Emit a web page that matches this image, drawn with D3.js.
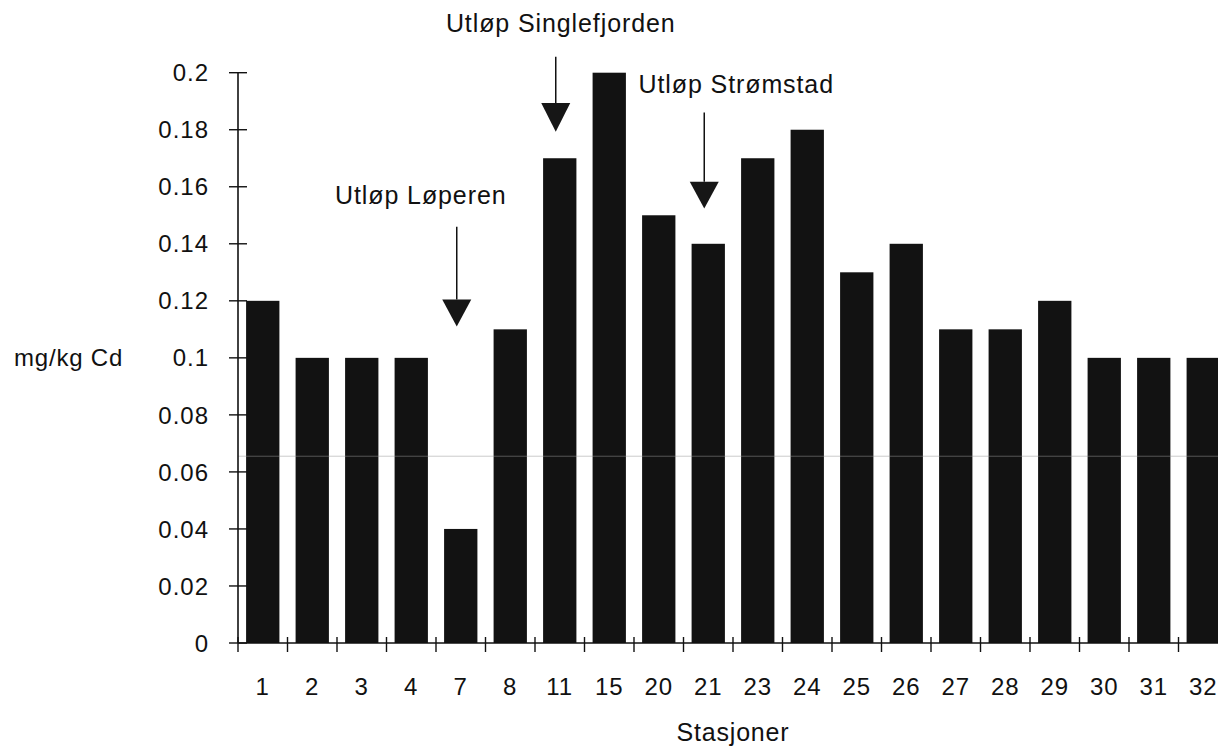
<!DOCTYPE html>
<html>
<head>
<meta charset="utf-8">
<script src="https://cdn.jsdelivr.net/npm/d3@7"></script>
<style>
  html, body { margin: 0; padding: 0; background: #fff; }
  svg { display: block; }
  text { font-family: "Liberation Sans", Arial, Helvetica, sans-serif; fill: #111; }
</style>
</head>
<body>
<svg id="chart" width="1218" height="749"></svg>
<script>
// ---- data ----
const stations = ["1","2","3","4","7","8","11","15","20","21","23","24","25","26","27","28","29","30","31","32"];
const cdValues = [0.12,0.10,0.10,0.10,0.04,0.11,0.17,0.20,0.15,0.14,0.17,0.18,0.13,0.14,0.11,0.11,0.12,0.10,0.10,0.10];
const yTicks = [0,0.02,0.04,0.06,0.08,0.1,0.12,0.14,0.16,0.18,0.2];
const yTickLabels = ["0","0.02","0.04","0.06","0.08","0.1","0.12","0.14","0.16","0.18","0.2"];
const annotationLabels = ["Utløp Løperen","Utløp Singlefjorden","Utløp Strømstad"];
const annotationTargets = ["7","11","21"];
// arrow geometry in data units: [text baseline, shaft top, head top, tip]
const annotationLevels = [
  [0.154, 0.146, 0.1205, 0.111],
  [0.2144, 0.2056, 0.1894, 0.1793],
  [0.1929, 0.186, 0.1618, 0.1524]
];
const yTitle = "mg/kg Cd";
const xTitle = "Stasjoner";

// ---- layout ----
const svg = d3.select("#chart");
const x0 = 238, x1 = 1228, yTop = 72.7, yBottom = 643;
const textOffsets = [-36, 5, 32];

const x = d3.scaleBand().domain(stations).range([x0, x1]).paddingInner(0.327).paddingOuter(0.1635);
const y = d3.scaleLinear().domain([0, 0.2]).range([yBottom, yTop]);
const step = x.step();

// bars
svg.append("g").selectAll("rect").data(stations).join("rect")
  .attr("x", d => x(d))
  .attr("width", x.bandwidth())
  .attr("y", (d, i) => y(cdValues[i]))
  .attr("height", (d, i) => y(0) - y(cdValues[i]))
  .attr("fill", "#121212");

// faint scan line
svg.append("line")
  .attr("x1", x0).attr("x2", 1218)
  .attr("y1", y(0.0655)).attr("y2", y(0.0655))
  .attr("stroke", "#9a9a9a").attr("stroke-opacity", 0.5).attr("stroke-width", 1);

// y axis
const yAxis = svg.append("g");
yAxis.append("line").attr("x1", x0).attr("x2", x0).attr("y1", y(0.2)).attr("y2", y(0))
  .attr("stroke", "#111").attr("stroke-width", 1.6);
yAxis.selectAll("line.tick").data(yTicks).join("line").attr("class", "tick")
  .attr("x1", x0 - 9).attr("x2", x0 + 9)
  .attr("y1", d => y(d)).attr("y2", d => y(d))
  .attr("stroke", "#111").attr("stroke-width", 1.4);
yAxis.selectAll("text").data(yTicks).join("text")
  .attr("x", 209).attr("y", d => y(d)).attr("dy", "0.36em")
  .attr("text-anchor", "end")
  .style("font-size", "24px").style("letter-spacing", "1px")
  .text((d, i) => yTickLabels[i]);

// x axis
const xAxis = svg.append("g");
xAxis.append("line").attr("x1", x0).attr("x2", 1218).attr("y1", y(0)).attr("y2", y(0))
  .attr("stroke", "#111").attr("stroke-width", 1.6);
const boundaries = d3.range(stations.length + 1).map(i => x0 + i * step);
xAxis.selectAll("line.tick").data(boundaries).join("line").attr("class", "tick")
  .attr("x1", d => d).attr("x2", d => d)
  .attr("y1", y(0) - 6).attr("y2", y(0) + 9)
  .attr("stroke", "#111").attr("stroke-width", 1.4);
xAxis.selectAll("text").data(stations).join("text")
  .attr("x", d => x(d) + x.bandwidth() / 2).attr("y", 695)
  .attr("text-anchor", "middle")
  .style("font-size", "24px").style("letter-spacing", "1px")
  .text(d => d);

// axis titles
svg.append("text").attr("x", 14).attr("y", y(0.1)).attr("dy", "0.36em")
  .style("font-size", "24px").style("letter-spacing", "0.8px").text(yTitle);
svg.append("text").attr("x", (x0 + x1) / 2).attr("y", 741).attr("text-anchor", "middle")
  .style("font-size", "25px").style("letter-spacing", "0.8px").text(xTitle);

// annotations
const ann = svg.append("g");
annotationLabels.forEach((label, i) => {
  const cx = x(annotationTargets[i]) + x.bandwidth() / 2 - 4;
  const [tb, st, ht, tip] = annotationLevels[i];
  ann.append("text").attr("x", cx + textOffsets[i]).attr("y", y(tb))
    .attr("text-anchor", "middle")
    .style("font-size", "25px").style("letter-spacing", "0.9px")
    .text(label);
  ann.append("line").attr("x1", cx).attr("x2", cx).attr("y1", y(st)).attr("y2", y(ht))
    .attr("stroke", "#111").attr("stroke-width", 1.5);
  ann.append("path")
    .attr("d", `M${cx - 14.5},${y(ht)} L${cx + 14.5},${y(ht)} L${cx},${y(tip)} Z`)
    .attr("fill", "#161616");
});
</script>
</body>
</html>
